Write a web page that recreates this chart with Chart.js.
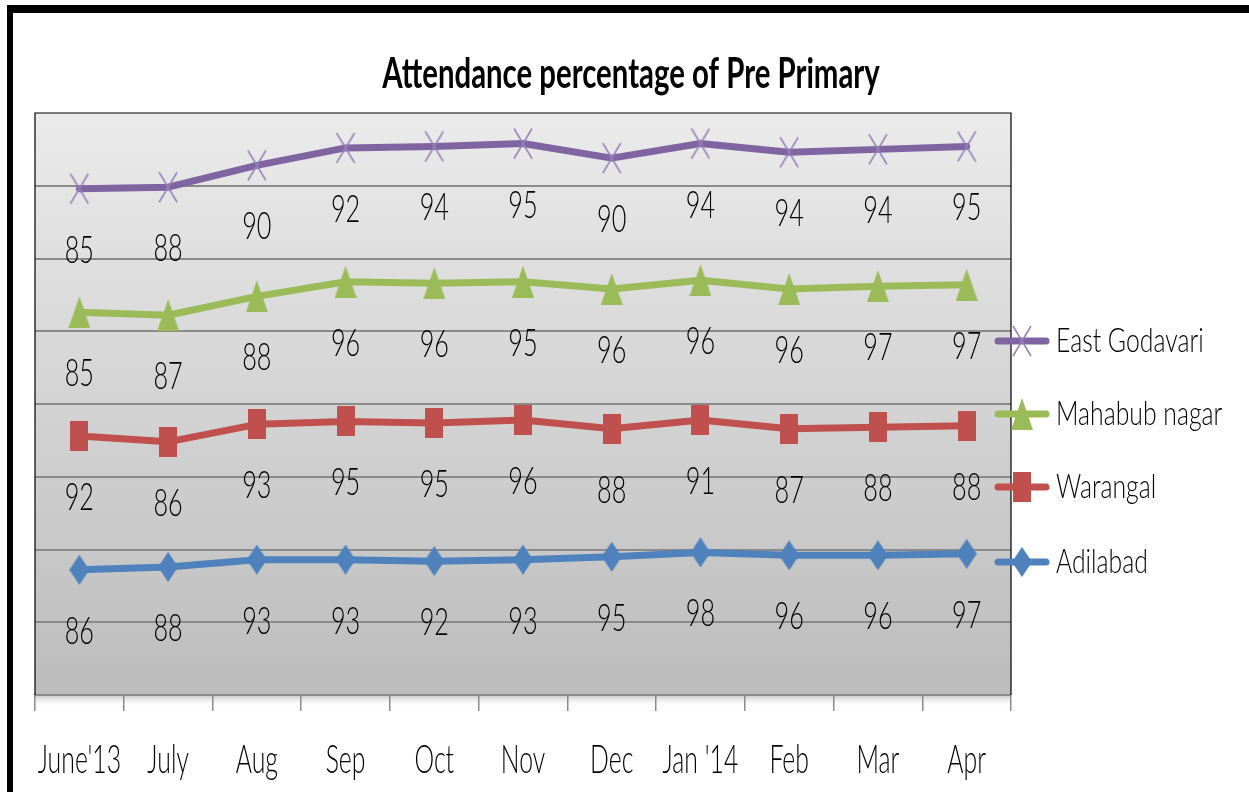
<!DOCTYPE html>
<html><head><meta charset="utf-8">
<script src="https://cdn.jsdelivr.net/npm/chart.js@4.4.1/dist/chart.umd.min.js"></script>
<style>html,body{margin:0;padding:0;background:#fff;overflow:hidden}#wrap{width:1249px;height:792px;position:relative}</style>
</head><body><div id="wrap"><canvas id="c" width="1249" height="792"></canvas></div>
<script>
const categories = ["June'13","July","Aug","Sep","Oct","Nov","Dec","Jan '14","Feb","Mar","Apr"];
const adilabad = [86,88,93,93,92,93,95,98,96,96,97];
const warangal = [92,86,93,95,95,96,88,91,87,88,88];
const mahabubNagar = [85,87,88,96,96,95,96,96,96,97,97];
const eastGodavari = [85,88,90,92,94,95,90,94,94,94,95];
const seriesNames = ["Adilabad","Warangal","Mahabub nagar","East Godavari"];
const yTicks = [0,50,100,150,200,250,300,350,400];
const titleText = "Attendance percentage of Pre Primary";

const FONT = "Lato,'Open Sans','DejaVu Sans',sans-serif";

function makeMarker(kind, color, w, h) {
  const c = document.createElement('canvas'); c.width = w; c.height = h;
  const g = c.getContext('2d');
  g.fillStyle = color; g.strokeStyle = color;
  if (kind === 'x') { g.lineWidth = 1.5; g.beginPath(); g.moveTo(1,1); g.lineTo(w-1,h-1); g.moveTo(w-1,1); g.lineTo(1,h-1); g.stroke(); }
  if (kind === 'tri') { g.beginPath(); g.moveTo(w/2,0); g.lineTo(w,h); g.lineTo(0,h); g.closePath(); g.fill(); }
  if (kind === 'sq') { g.fillRect(0,0,w,h); }
  if (kind === 'dia') { g.beginPath(); g.moveTo(w/2,0); g.lineTo(w,h/2); g.lineTo(w/2,h); g.lineTo(0,h/2); g.closePath(); g.fill(); }
  return c;
}
const COLORS = ['#4F81BD','#C0504D','#9BBB59','#8064A2'];
const MARKERS = [
  makeMarker('dia', COLORS[0], 20, 30),
  makeMarker('sq', COLORS[1], 18, 30),
  makeMarker('tri', COLORS[2], 22, 32),
  makeMarker('x', '#9580BA', 20, 32)
];
const seriesData = [adilabad, warangal, mahabubNagar, eastGodavari];

function fit(ctx, sample, hChar, weight, targetW, targetH) {
  ctx.save();
  ctx.font = weight + ' 40px ' + FONT;
  const m = ctx.measureText(sample);
  const w = m.actualBoundingBoxLeft + m.actualBoundingBoxRight;
  const h = ctx.measureText(hChar).actualBoundingBoxAscent;
  ctx.restore();
  return { weight, sx: targetW / w, sy: targetH / h };
}
let ST = null;
function sText(ctx, text, x, y, st, align) {
  ctx.save();
  ctx.translate(x, y);
  ctx.scale(st.sx, st.sy);
  ctx.font = st.weight + ' 40px ' + FONT;
  ctx.textAlign = align || 'center';
  ctx.textBaseline = 'alphabetic';
  ctx.fillStyle = '#000';
  ctx.fillText(text, 0, 0);
  ctx.restore();
}

const deco = {
  id: 'deco',
  beforeDraw(chart) {
    const ctx = chart.ctx, a = chart.chartArea;
    ctx.save();
    ctx.fillStyle = '#fff'; ctx.fillRect(0,0,chart.width,chart.height);
    const gr = ctx.createLinearGradient(0, a.top, 0, a.bottom);
    gr.addColorStop(0, '#ebebeb'); gr.addColorStop(1, '#bcbcbc');
    ctx.fillStyle = gr; ctx.fillRect(a.left, a.top, a.right - a.left, a.bottom - a.top);
    const sh = ctx.createLinearGradient(0, a.bottom, 0, a.bottom + 12);
    sh.addColorStop(0, '#c4c4c4'); sh.addColorStop(1, 'rgba(255,255,255,0)');
    ctx.fillStyle = sh; ctx.fillRect(a.left, a.bottom, a.right - a.left, 12);
    ctx.restore();
  },
  afterDraw(chart) {
    const ctx = chart.ctx, a = chart.chartArea, xs = chart.scales.x;
    if (!ST) {
      ST = {
        title: fit(ctx, titleText, 'A', 'bold', 499, 31),
        tick: fit(ctx, "June'13", '1', '300', 82, 27),
        label: fit(ctx, '85', '8', '300', 26, 26),
        legend: fit(ctx, 'East Godavari', 'E', '300', 144, 24)
      };
    }
    ctx.save();
    ctx.strokeStyle = '#000'; ctx.lineWidth = 1.2;
    ctx.beginPath(); ctx.moveTo(a.left, a.bottom); ctx.lineTo(a.left, a.top); ctx.lineTo(a.right, a.top); ctx.lineTo(a.right, a.bottom); ctx.stroke();
    ctx.fillStyle = '#000';
    ctx.fillRect(7, 5, chart.width - 7, 8);
    ctx.fillRect(7, 5, 6, chart.height - 5);
    sText(ctx, titleText, 631, 88, ST.title, 'center');
    categories.forEach((c, i) => sText(ctx, c, xs.getPixelForValue(i), 773, ST.tick, 'center'));
    chart.data.datasets.forEach((ds, di) => {
      const meta = chart.getDatasetMeta(di);
      meta.data.forEach((pt, i) => {
        sText(ctx, String(ds.data[i]), pt.x, pt.y + 74, ST.label, 'center');
      });
    });
    const ly = [562, 487, 414, 341];
    for (let k = 0; k < 4; k++) {
      const y = ly[k];
      ctx.strokeStyle = COLORS[k]; ctx.lineWidth = 7; ctx.lineCap = 'round';
      ctx.beginPath(); ctx.moveTo(998, y); ctx.lineTo(1046, y); ctx.stroke();
      const m = MARKERS[k];
      ctx.drawImage(m, 1022 - m.width/2, y - m.height/2);
      sText(ctx, seriesNames[k], 1056, y + 11, ST.legend, 'left');
    }
    ctx.restore();
  }
};

new Chart(document.getElementById('c'), {
  type: 'line',
  data: {
    labels: categories,
    datasets: seriesData.map((d, k) => ({
      label: seriesNames[k], data: d, borderColor: COLORS[k], backgroundColor: COLORS[k],
      pointStyle: MARKERS[k], pointRadius: 10, fill: false
    }))
  },
  options: {
    responsive: false, animation: false,
    layout: { padding: { left: 35, right: 238, top: 113, bottom: 0 } },
    plugins: { legend: { display: false }, title: { display: false }, tooltip: { enabled: false } },
    elements: { line: { tension: 0, borderWidth: 7, borderCapStyle: 'round', borderJoinStyle: 'round' } },
    scales: {
      x: {
        offset: true,
        grid: { offset: true, drawOnChartArea: false, drawTicks: true, tickLength: 16, color: '#8a8a8a', lineWidth: 1.5 },
        border: { display: true, color: '#8a8a8a', width: 2 },
        ticks: { display: false },
        afterFit(s) { s.height = 97; }
      },
      y: {
        stacked: true, min: 0, max: 400,
        afterBuildTicks(s) { s.ticks = yTicks.map(v => ({ value: v })); },
        ticks: { display: false },
        grid: { color: c => (c.tick.value === 0 || c.tick.value === 400) ? 'rgba(0,0,0,0)' : '#8a8a8a', lineWidth: 2, drawTicks: false },
        border: { display: false },
        afterFit(s) { s.width = 0; }
      }
    }
  },
  plugins: [deco]
});
</script>
</body></html>
